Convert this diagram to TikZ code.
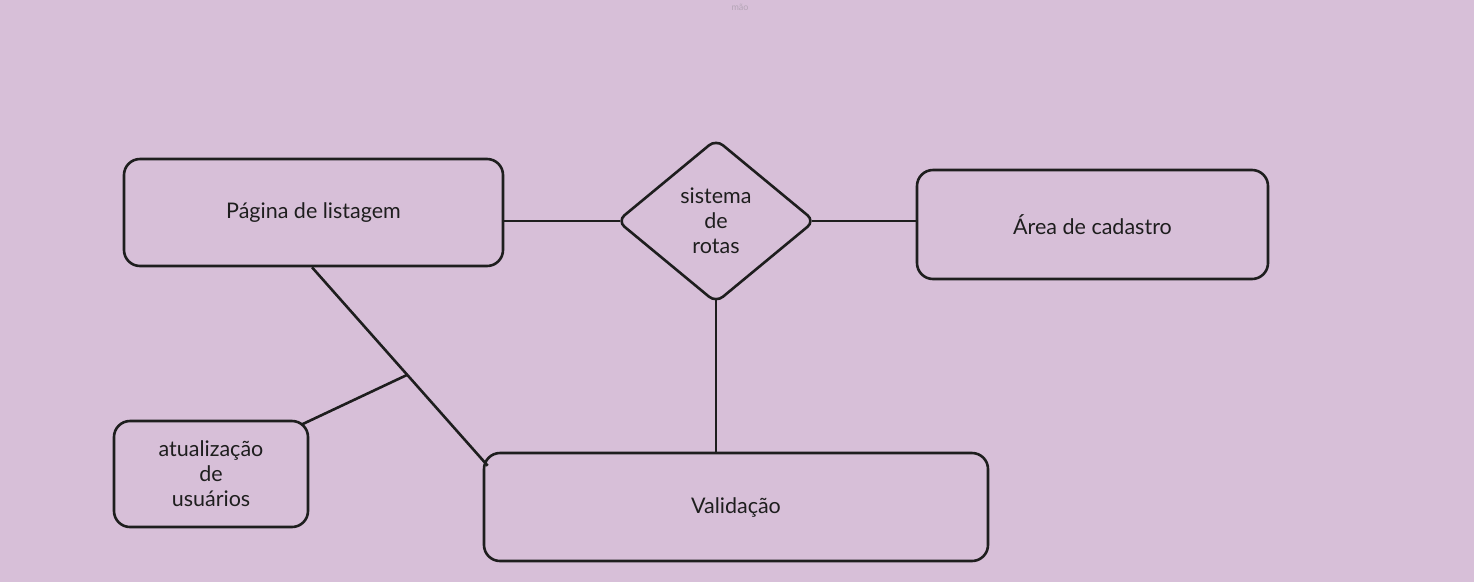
\documentclass[tikz,border=0pt]{standalone}
\usepackage{fontspec}
\setmainfont{Lato}
\usetikzlibrary{shapes.geometric,calc}
\definecolor{bgc}{RGB}{215,191,216}
\definecolor{ink}{RGB}{30,30,30}
\definecolor{faint}{RGB}{180,165,182}
\begin{document}
\begin{tikzpicture}[x=1pt,y=-1pt,
  box/.style={draw=ink,line width=2.6pt,rounded corners=16pt,inner sep=0pt,
    font=\fontsize{21.5}{25}\selectfont,text=ink,align=center},
  rota/.style={draw=ink,line width=2.6pt,diamond,rounded corners=9pt,inner sep=0pt,
    font=\fontsize{21.5}{25}\selectfont,text=ink,align=center},
  conn/.style={draw=ink,line width=2.6pt}]
\fill[bgc] (0,0) rectangle (1474,582);
\useasboundingbox (0,0) rectangle (1474,582);
\node[text=faint,font=\fontsize{9}{10}\selectfont] (mao) at (740,7) {mão};
\node[box,minimum width=379pt,minimum height=107pt] (list) at (313.5,212.5) {Página de listagem};
\node[rota,minimum width=198pt,minimum height=164pt] (rotas) at (716,221) {sistema\\de\\rotas};
\node[box,minimum width=351pt,minimum height=109pt] (area) at (1092.5,224.5) {Área de cadastro};
\node[box,minimum width=194pt,minimum height=106pt] (atual) at (211,474) {atualização\\de\\usuários};
\node[box,minimum width=504pt,minimum height=108pt] (valid) at (736,507) {Validação};
\draw[conn] (list.east |- rotas.west) -- ([xshift=4pt]rotas.west);
\draw[conn] ([xshift=-4pt]rotas.east) -- (area.west |- rotas.east);
\draw[conn] ([yshift=4pt]rotas.south) -- (valid.north -| rotas.south);
\coordinate (a) at ([xshift=-1.5pt]list.south);
\coordinate (b) at ([xshift=5pt,yshift=-14pt]valid.north west);
\draw[conn] (a) -- (b);
\coordinate (j) at ($(a)!0.542!(b)$);
\draw[conn] (j) -- ([xshift=-8pt,yshift=-5pt]atual.north east);
\end{tikzpicture}
\end{document}
